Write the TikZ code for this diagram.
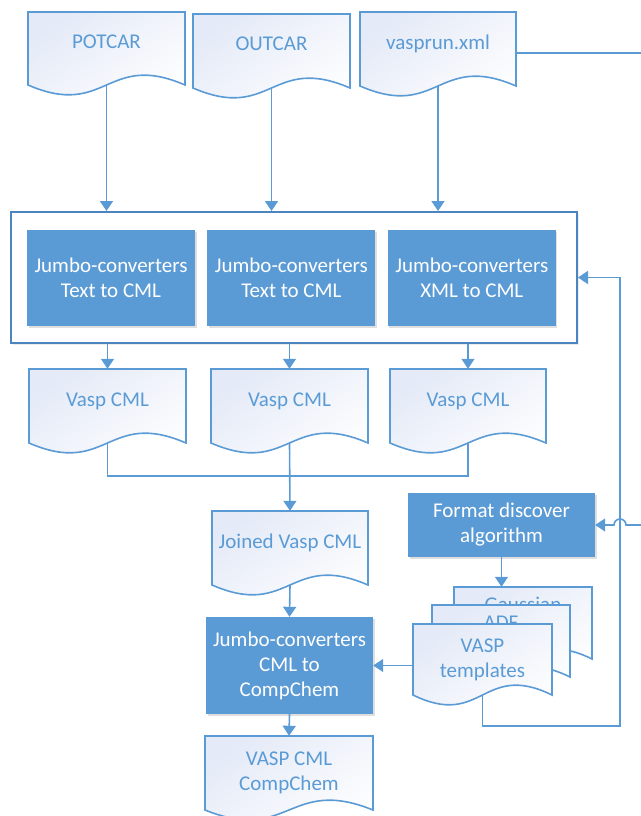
\documentclass[tikz,border=0pt]{standalone}
\usepackage{fontspec}
\setmainfont{Carlito}
\usetikzlibrary{arrows.meta,positioning,shadows}

\definecolor{lineblue}{RGB}{91,155,213}
\definecolor{frameblue}{RGB}{76,132,192}
\definecolor{docfill}{RGB}{228,234,247}

% document symbol: [options] name, left, top, width, height of the sides, text
\newcommand{\docnode}[7][]{%
	\filldraw [docline] (#3,#4) -- (#3+#5,#4) -- (#3+#5,#4+#6)
		.. controls (#3+#5/2,#4+#6-34) and (#3+#5/2,#4+#6+34) .. (#3,#4+#6) -- cycle;
	\node at (#3+#5/2,#4+#6/2) [doc, minimum width=#5pt, minimum height=#6pt, #1] (#2) {#7};
}

\begin{document}
\begin{tikzpicture}
	[x=1pt, y=-1pt, font=\fontsize{21}{25}\selectfont,
	docline/.style	= {draw=lineblue, line width=1.6pt, top color=docfill, bottom color=white, shading angle=35},
	doc/.style		= {rectangle, inner sep=0pt, text=lineblue, align=center},
	oneline/.style	= {text height=15pt, text depth=15pt},
	raised/.style	= {text height=15pt, text depth=39pt},
	process/.style	= {rectangle, inner sep=0pt, fill=lineblue, text=white, align=center,
		drop shadow={opacity=0.25, shadow xshift=1.5pt, shadow yshift=-1.5pt}},
	wrapper/.style	= {rectangle, draw=frameblue, line width=2pt, fill=white,
		drop shadow={opacity=0.15, shadow xshift=1.5pt, shadow yshift=-1.5pt}},
	paths/.style	= {-{Triangle[width=13pt, length=10pt]}, draw=lineblue, line width=1.6pt},
	links/.style	= {draw=lineblue, line width=1.6pt}]

	\useasboundingbox (0,0) rectangle (640,816);

	% input files
	\docnode[oneline]{potcar}{28}{12}{157}{73}{POTCAR}
	\docnode[oneline]{outcar}{193}{14}{157}{74}{OUTCAR}
	\docnode[oneline]{vasprun}{360}{12}{156}{74}{vasprun.xml}

	% converters
	\node at (294,277.5)	[wrapper, minimum width=566pt, minimum height=131pt]	(wrap)	{};
	\node at (111,278)		[process, minimum width=168pt, minimum height=96pt]	(jc1)	{Jumbo-converters\\Text to CML};
	\node [process, minimum width=168pt, minimum height=96pt, right=12pt of jc1]	(jc2)	{Jumbo-converters\\Text to CML};
	\node [process, minimum width=168pt, minimum height=96pt, right=12pt of jc2]	(jc3)	{Jumbo-converters\\XML to CML};

	% CML files
	\docnode[oneline]{vasp1}{29}{369}{157}{74}{Vasp CML}
	\docnode[oneline]{vasp2}{211}{369}{157}{74}{Vasp CML}
	\docnode[oneline]{vasp3}{390}{369}{156}{74}{Vasp CML}
	\docnode[oneline]{joined}{212}{511}{156}{74}{Joined Vasp CML}

	\node at (289.5,665.5)	[process, minimum width=167pt, minimum height=97pt]	(cmlcc)	{Jumbo-converters\\CML to\\CompChem};
	\docnode{final}{205}{736}{168}{74}{VASP CML\\CompChem}

	% templates
	\node at (501.5,525)	[process, minimum width=187pt, minimum height=64pt]	(format)	{Format discover\\algorithm};
	\docnode[raised]{gauss}{454}{587}{138}{72}{Gaussian}
	\docnode[raised]{adf}{432}{605}{138}{72}{ADF}
	\docnode{tmplvasp}{413}{624}{139}{71}{VASP\\templates}

	\foreach \src in {potcar, outcar, vasprun}
		\draw [paths] (\src.south) -- (\src.south |- wrap.north);
	\foreach \dst in {vasp1, vasp2, vasp3}
		\draw [paths] (\dst.north |- wrap.south) -- (\dst.north);

	\coordinate (merge) at (290,476);
	\draw [links] (vasp1.south) |- (merge) -| (vasp3.south);
	\draw [paths] (vasp2.south) -- (joined.north);
	\draw [paths] (joined.south) -- (cmlcc.north);
	\draw [paths] (cmlcc.south) -- (final.north);
	\draw [paths] (format.south) -- (format.south |- gauss.north);
	\draw [paths] (cmlcc.east -| tmplvasp.west) -- (cmlcc.east);

	\coordinate (loop) at (620,726);
	\draw [paths] (tmplvasp.south) |- (loop) |- (wrap.east);

	\coordinate (offpage) at (660,525);
	\draw [paths] ([yshift=-4pt]vasprun.east) -| (offpage) -- ++(-34,0)
		arc [start angle=0, end angle=-180, radius=6] -- (format.east);

\end{tikzpicture}
\end{document}
